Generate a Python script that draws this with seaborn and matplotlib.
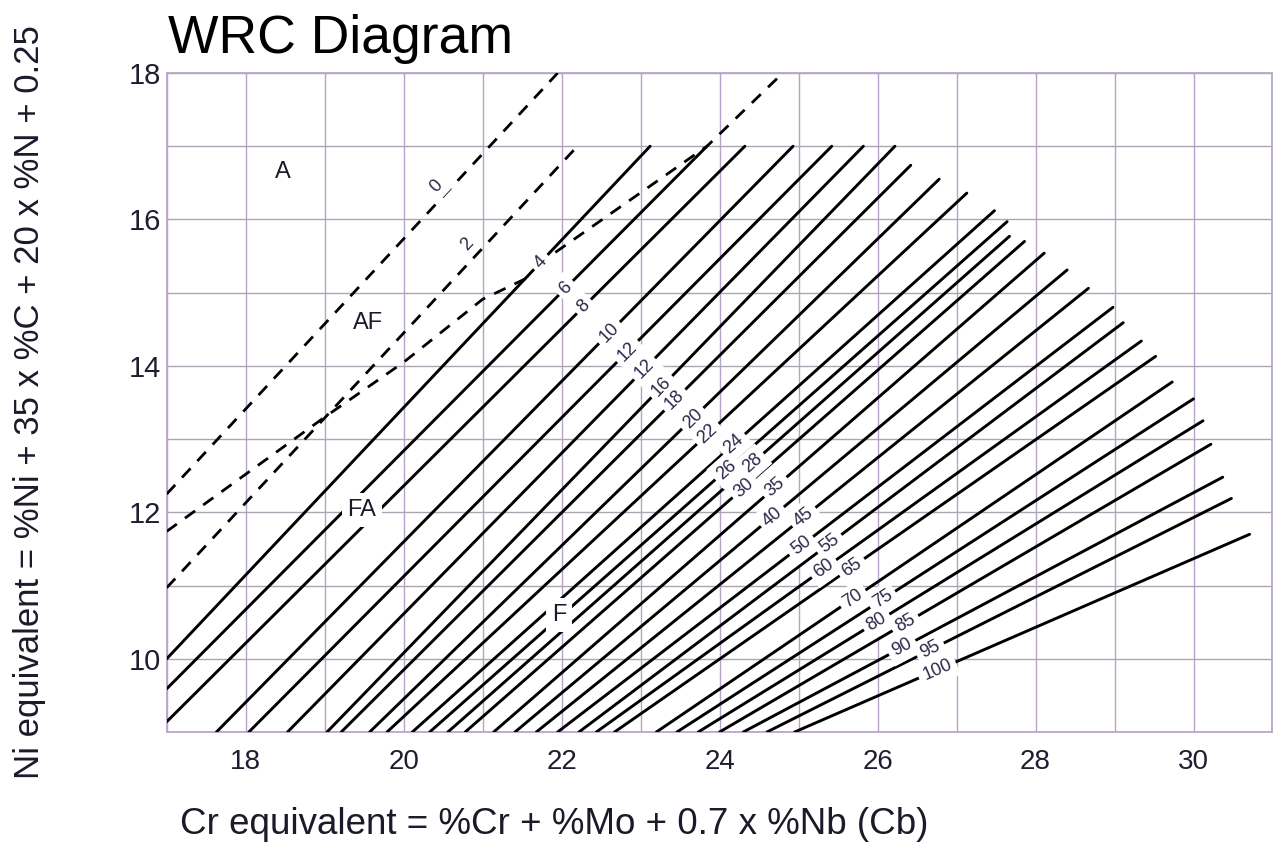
import numpy as np
import pandas as pd
import matplotlib
matplotlib.use("Agg")
import matplotlib.pyplot as plt
import seaborn as sns
from matplotlib.ticker import MultipleLocator

# ---------------- data ----------------
fn_labels = ["4", "6", "8", "10", "12", "12", "16", "18", "20", "22", "24", "26", "28", "30",
             "35", "40", "45", "50", "55", "60", "65", "70", "75", "80", "85", "90", "95", "100"]
# lower ends of the iso-ferrite lines (left edge or bottom edge)
start_x = [17.0, 17.0, 17.0, 17.63, 18.04, 18.53, 19.03, 19.21, 19.57, 19.79, 20.11, 20.33, 20.56, 20.78,
           21.14, 21.41, 21.68, 21.95, 22.22, 22.44, 22.67, 23.2, 23.46, 23.73, 24.0, 24.3, 24.6, 24.95]
start_y = [10.0, 9.59, 9.14] + [9.0] * 25
# upper ends of the iso-ferrite lines
end_x = [23.12, 23.84, 24.32, 24.93, 25.42, 25.82, 26.22, 26.42, 26.78, 27.13, 27.48, 27.64, 27.67, 27.86,
         28.11, 28.40, 28.67, 28.98, 29.11, 29.34, 29.52, 29.73, 30.0, 30.12, 30.22, 30.37, 30.48, 30.71]
end_y = [17.0, 17.0, 17.0, 17.0, 17.0, 17.0, 17.0, 16.74, 16.55, 16.36, 16.12, 15.97, 15.77, 15.70,
         15.54, 15.31, 15.06, 14.80, 14.59, 14.34, 14.13, 13.78, 13.55, 13.25, 12.93, 12.48, 12.19, 11.70]

# dashed lines
fn0_x = [17.0, 21.95]
fn0_y = [12.25, 18.0]
fn2_x = [17.0, 22.2]
fn2_y = [10.97, 17.0]
bound_lo_x = [17.0, 19.0, 20.0, 21.0, 21.6]
bound_lo_y = [11.74, 13.3, 14.05, 14.91, 15.22]
bound_hi_x = [21.92, 23.84, 24.8]
bound_hi_y = [15.55, 17.0, 18.0]
dash_labels = ["0", "2"]
dash_label_x = [20.42, 20.8]
dash_label_y = [16.45, 15.66]

regions = ["A", "AF", "FA", "F"]
region_x = [18.47, 19.55, 19.47, 21.97]
region_y = [16.65, 14.58, 12.03, 10.6]

x_ticks = [18, 20, 22, 24, 26, 28, 30]
y_ticks = [10, 12, 14, 16, 18]

# ---------------- figure ----------------
sns.set_theme(style="white")
plt.rcParams["font.family"] = ["Liberation Sans", "DejaVu Sans"]

W, H = 1274, 842
fig = plt.figure(figsize=(W / 100, H / 100), dpi=100)
ax = fig.add_axes([166.7 / W, 1 - 732 / H, (1272.5 - 166.7) / W, (732 - 73) / H])

ax.set_xlim(17, 31)
ax.set_ylim(9, 18)
ax.xaxis.set_minor_locator(MultipleLocator(1))
ax.yaxis.set_minor_locator(MultipleLocator(1))
ax.set_xticks(x_ticks)
ax.set_yticks(y_ticks)
ax.grid(which="both", axis="x", color="#b7a3c9", lw=1.0)
ax.grid(which="both", axis="y", color="#aba4b2", lw=1.0)
ax.set_axisbelow(True)
ax.tick_params(which="both", length=0)
ax.tick_params(axis="x", pad=12, labelsize=20, labelcolor="#221c30")
ax.tick_params(axis="y", pad=4, labelsize=21, labelcolor="#221c30")
for s in ax.spines.values():
    s.set_color("#b9a6ca")
    s.set_linewidth(1.3)

# solid iso-ferrite lines
rows = []
for i in range(len(fn_labels)):
    rows.append(dict(x=start_x[i], y=start_y[i], line=i))
    rows.append(dict(x=end_x[i], y=end_y[i], line=i))
df = pd.DataFrame(rows)
sns.lineplot(data=df, x="x", y="y", units="line", estimator=None, sort=False,
             color="black", lw=2.1, ax=ax, legend=False, zorder=3)

# dashed lines
drows = []
for k, (xs, ys) in enumerate([(fn0_x, fn0_y), (fn2_x, fn2_y), (bound_lo_x, bound_lo_y), (bound_hi_x, bound_hi_y)]):
    for xx, yy in zip(xs, ys):
        drows.append(dict(x=xx, y=yy, seg=k))
ddf = pd.DataFrame(drows)
sns.lineplot(data=ddf, x="x", y="y", units="seg", estimator=None, sort=False,
             color="black", lw=2.0, linestyle=(0, (4.5, 3.6)), ax=ax, legend=False, zorder=3)

# ferrite number labels along the diagonal band
band_x0, band_y0, band_m = 21.77, 15.38, -1.11
lab_color = "#2a2748"
for i, lab in enumerate(fn_labels):
    m = (end_y[i] - start_y[i]) / (end_x[i] - start_x[i])
    xs = (band_y0 - start_y[i] + m * start_x[i] - band_m * band_x0) / (m - band_m)
    if 10 <= i <= 26:
        xs += 0.11 if i % 2 == 0 else -0.11
    ys = start_y[i] + m * (xs - start_x[i])
    ang = np.degrees(np.arctan(m))
    kw = dict(rotation=ang, transform_rotates_text=True, rotation_mode="anchor",
              ha="center", va="center", fontsize=13)
    ax.text(xs, ys, lab, color="none", zorder=5,
            bbox=dict(fc="white", ec="none", pad=3.5), **kw)
    ax.text(xs, ys, lab, color=lab_color, zorder=6, **kw)

for lab, lx, ly in zip(dash_labels, dash_label_x, dash_label_y):
    kw = dict(rotation=np.degrees(np.arctan(1.16)), transform_rotates_text=True, rotation_mode="anchor",
              ha="center", va="center", fontsize=13)
    ax.text(lx, ly, lab, color="none", zorder=5, bbox=dict(fc="white", ec="none", pad=2.5), **kw)
    ax.text(lx, ly, lab, color=lab_color, zorder=6, **kw)

# region labels
for lab, rx, ry in zip(regions, region_x, region_y):
    ax.text(rx, ry, lab, ha="center", va="center", fontsize=17, color="#1c1a2a", zorder=7,
            bbox=dict(fc="white", ec="none", pad=4))

ax.set_xlabel("")
ax.set_ylabel("")

fig.text(168 / W, 1 - 53 / H, "WRC Diagram", fontsize=38.5, ha="left", va="baseline", color="black")
fig.text(180 / W, 1 - 825 / H, "Cr equivalent = %Cr + %Mo + 0.7 x %Nb (Cb)", fontsize=26.5,
         ha="left", va="center", color="#1c1a2a")
fig.text(30 / W, 1 - 402 / H, "Ni equivalent = %Ni + 35 x %C + 20 x %N + 0.25", fontsize=25,
         rotation=90, ha="center", va="center", color="#1c1a2a")

fig.savefig("out.png", dpi=100, facecolor="white")
